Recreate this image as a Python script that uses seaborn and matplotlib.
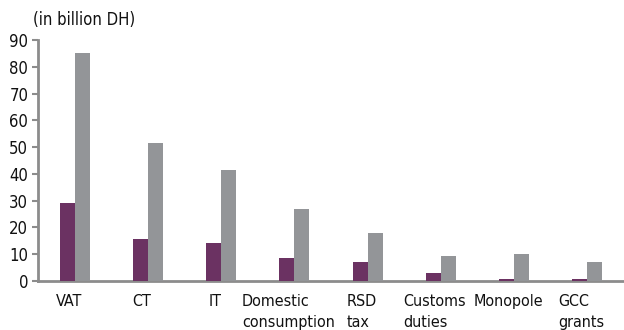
import matplotlib
matplotlib.use("Agg")
import matplotlib.pyplot as plt
import matplotlib.transforms as mtransforms
import seaborn as sns
import pandas as pd

# Tax revenue by category, two series (in billion DH)
categories = ["VAT", "CT", "IT", "Domestic\nconsumption", "RSD\ntax",
              "Customs\nduties", "Monopole", "GCC\ngrants"]
series_names = ["A", "B"]
values_a = [29.0, 15.6, 14.2, 8.6, 7.2, 2.9, 0.9, 0.8]
values_b = [85.3, 51.5, 41.5, 26.9, 17.8, 9.2, 10.0, 7.1]
y_ticks = [0, 10, 20, 30, 40, 50, 60, 70, 80, 90]

df = pd.DataFrame({
    "category": categories * 2,
    "series": [series_names[0]] * len(categories) + [series_names[1]] * len(categories),
    "value": values_a + values_b,
})

sns.set_theme(style="white")
plt.rcParams["font.family"] = ["DejaVu Sans"]
plt.rcParams["font.stretch"] = "condensed"

fig = plt.figure(figsize=(6.24, 3.30), dpi=100)
ax = fig.add_axes([38 / 624, 49 / 330, 1 - 38 / 624, (281 - 40) / 330])

sns.barplot(data=df, x="category", y="value", hue="series",
            palette=["#6b3262", "#939598"], width=0.41, saturation=1,
            errorbar=None, legend=False, linewidth=0, ax=ax)

ax.set_xlim(-0.5, 7.5)
ax.set_ylim(0, 90)
ax.set_yticks(y_ticks)
ax.set_xlabel("")
ax.set_ylabel("")

axis_color = "#8c8c8c"
for side in ["top", "right"]:
    ax.spines[side].set_visible(False)
for side in ["left", "bottom"]:
    ax.spines[side].set_color(axis_color)
    ax.spines[side].set_linewidth(2)
    ax.spines[side].set_zorder(0.5)

ax.tick_params(axis="y", which="major", direction="out", length=4, width=1.5,
               color=axis_color, labelsize=12, labelcolor="#111111", pad=3, left=True)
ax.tick_params(axis="x", length=0, labelsize=11.5, labelcolor="#111111", pad=9.5)

offset = mtransforms.ScaledTranslation(-6 / 100, 0, fig.dpi_scale_trans)
for lbl in ax.get_xticklabels():
    lbl.set_multialignment("left")
    lbl.set_linespacing(1.45)
    lbl.set_transform(lbl.get_transform() + offset)

fig.text(33 / 624, 1 - 20 / 330, "(in billion DH)", ha="left", va="center",
         fontsize=12, color="#111111")

fig.savefig("out.png", dpi=100)
